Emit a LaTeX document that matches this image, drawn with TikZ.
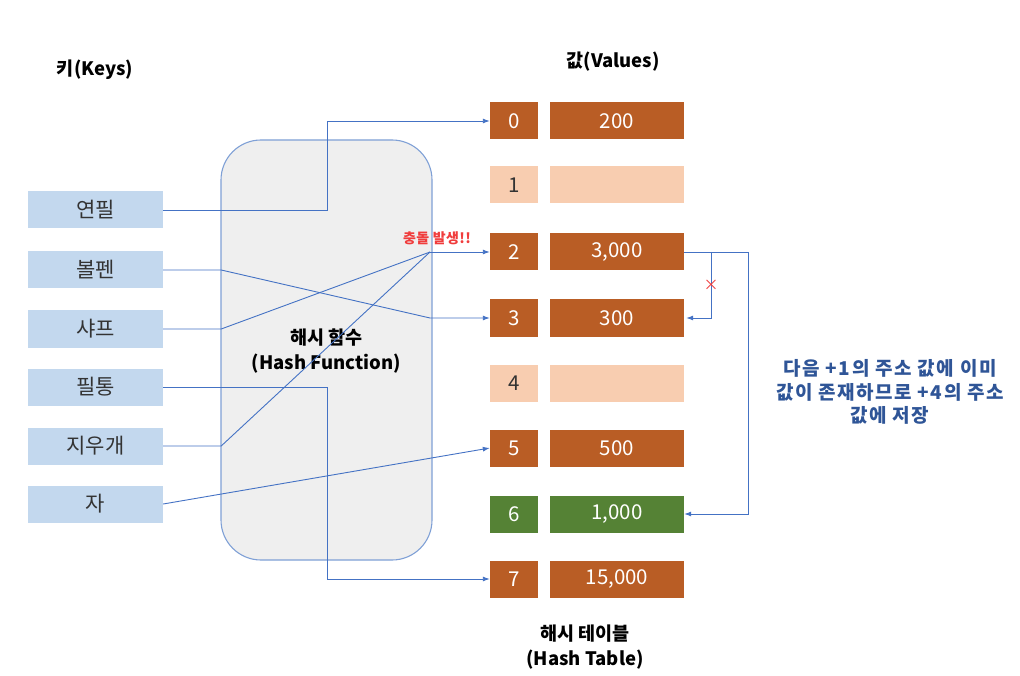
\documentclass[tikz,border=0pt]{standalone}
\usepackage{fontspec}
\setmainfont{Noto Sans CJK KR}
\usetikzlibrary{arrows.meta}
\definecolor{keyblue}{HTML}{C3D8EE}
\definecolor{dorange}{HTML}{B95D25}
\definecolor{peach}{HTML}{F8CDB0}
\definecolor{dgreen}{HTML}{558235}
\definecolor{lblue}{HTML}{4472C4}
\definecolor{hborder}{HTML}{7FA0D6}
\definecolor{hfill}{HTML}{EFEFEF}
\definecolor{notecol}{HTML}{2F5597}
\definecolor{redtxt}{HTML}{F03C3C}
\definecolor{keytxt}{HTML}{333333}
\tikzset{
  keybox/.style={fill=keyblue, minimum width=135pt, minimum height=37pt, inner sep=0pt,
    text=keytxt, font=\fontsize{21}{24}\selectfont},
  idxbox/.style={minimum width=48pt, minimum height=37pt, inner sep=0pt,
    font=\fontsize{20.5}{24}\selectfont},
  valbox/.style={minimum width=134pt, minimum height=37pt, inner sep=0pt,
    font=\fontsize{20.5}{24}\selectfont},
  full/.style={fill=dorange, text=white},
  empty/.style={fill=peach, text=keytxt},
  moved/.style={fill=dgreen, text=white},
  conn/.style={draw=lblue, line width=0.9pt, -{Latex[length=7pt,width=5pt]}},
  plain/.style={draw=lblue, line width=0.9pt},
  title/.style={font=\bfseries\fontsize{18.5}{24.5}\selectfont, text=black, align=center}
}
\begin{document}
\begin{tikzpicture}[x=1pt,y=-1pt]
\useasboundingbox (0,0) rectangle (1020,676);
% hash function box
\node[draw=hborder, fill=hfill, line width=1.1pt, rounded corners=40pt,
  minimum width=211pt, minimum height=420pt, inner sep=0pt] (hf) at (326.5,350) {};
\node[title] (hft) at (326.5,351) {해시 함수\\(Hash Function)};
% titles
\node[title] (tk) at (95,70) {키(Keys)};
\node[title] (tv) at (613,62) {값(Values)};
\node[title] (tt) at (585,647) {해시 테이블\\(Hash Table)};
% keys
\node[keybox] (k1) at (95.5,210) {연필};
\node[keybox] (k2) at (95.5,270) {볼펜};
\node[keybox] (k3) at (95.5,329) {샤프};
\node[keybox] (k4) at (95.5,387) {필통};
\node[keybox] (k5) at (95.5,446) {지우개};
\node[keybox] (k6) at (95.5,504) {자};
% table
\node[idxbox,full]  (i0) at (514,121) {0};
\node[valbox,full]  (v0) at (617,121) {200};
\node[idxbox,empty] (i1) at (514,185) {1};
\node[valbox,empty] (v1) at (617,185) {};
\node[idxbox,full]  (i2) at (514,252) {2};
\node[valbox,full]  (v2) at (617,252) {3,000};
\node[idxbox,full]  (i3) at (514,318) {3};
\node[valbox,full]  (v3) at (617,318) {300};
\node[idxbox,empty] (i4) at (514,383) {4};
\node[valbox,empty] (v4) at (617,383) {};
\node[idxbox,full]  (i5) at (514,448) {5};
\node[valbox,full]  (v5) at (617,448) {500};
\node[idxbox,moved] (i6) at (514,514) {6};
\node[valbox,moved] (v6) at (617,514) {1,000};
\node[idxbox,full]  (i7) at (514,579) {7};
\node[valbox,full]  (v7) at (617,579) {15,000};
% connectors
\coordinate (hit) at (430,252);
\coordinate (b3) at (430,318);
\draw[conn] (k1.east) -- ++(164,0) |- (i0.west);
\draw[conn] (k2.east) -- ++(58,0) -- (b3) -- (i3.west);
\draw[plain] (k3.east) -- ++(58,0) -- (hit);
\draw[plain] (k5.east) -- ++(58,0) -- (hit);
\draw[conn] (hit) -- (i2.west);
\draw[conn] (k4.east) -- ++(164,0) |- (i7.west);
\draw[conn] (k6.east) -- (i5.west);
\coordinate (br) at (711,252);
\draw[conn] (v2.east) -- ++(64,0) |- (v6.east);
\draw[conn] (br) |- ([xshift=2pt]v3.east);
\node[text=redtxt, font=\fontsize{15}{15}\selectfont, inner sep=0pt] (xm) at (711,285) {×};
\node[text=redtxt, font=\bfseries\fontsize{14}{16}\selectfont\addfontfeatures{LetterSpace=3}, inner sep=0pt] (col) at (437,238) {충돌 발생!!};
\node[text=notecol, font=\bfseries\fontsize{19}{23.5}\selectfont\addfontfeatures{LetterSpace=8}, align=center] (note) at (890,392)
  {다음 +1의 주소 값에 이미\\값이 존재하므로 +4의 주소\\값에 저장};
\end{tikzpicture}
\end{document}
